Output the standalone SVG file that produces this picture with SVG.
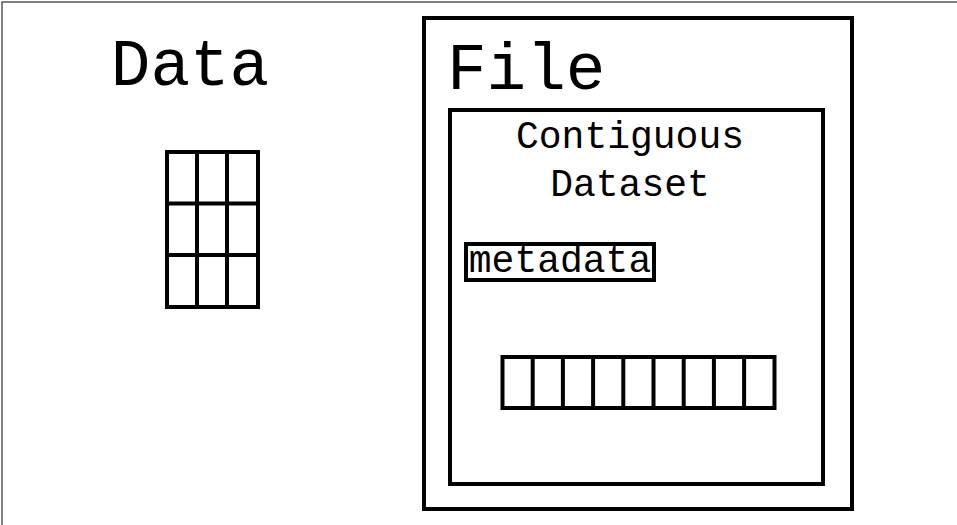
<svg xmlns="http://www.w3.org/2000/svg" width="957" height="525" viewBox="0 0 957 525">
<style>
.box{fill:#fff;stroke:#000;stroke-width:4}
.cell{fill:none;stroke:#000;stroke-width:4}
.big{font-family:"Liberation Mono","Courier New",monospace;font-size:66px;fill:#000}
.mid{font-family:"Liberation Mono","Courier New",monospace;font-size:38px;fill:#000}
</style>
<rect x="0" y="0" width="957" height="525" fill="#fff"/>
<rect x="2" y="2" width="1000" height="600" fill="none" stroke="#555" stroke-width="1.5"/>
<g id="data">
<text class="big" x="190" y="85" text-anchor="middle">Data</text>
<rect class="box" x="167" y="152" width="91" height="155"/>
<path class="cell" d="M197 152V307M227 152V307M167 203.5H258M167 255H258"/>
</g>
<g id="file">
<rect class="box" x="424" y="18" width="428" height="491"/>
<text class="big" x="447" y="89">File</text>
<g id="dataset">
<rect class="box" x="450" y="110" width="373" height="374"/>
<text class="mid" x="630" y="148" text-anchor="middle">Contiguous</text>
<text class="mid" x="630" y="196" text-anchor="middle">Dataset</text>
<g id="metadata">
<rect class="box" x="466" y="244" width="188" height="36"/>
<text class="mid" x="560" y="272" text-anchor="middle">metadata</text>
</g>
<g id="array">
<rect class="box" x="502.5" y="357" width="272" height="51"/>
<path class="cell" d="M532.7 357V408M562.9 357V408M593.1 357V408M623.3 357V408M653.5 357V408M683.7 357V408M713.9 357V408M744.1 357V408"/>
</g>
</g>
</g>
<g id="connectors"></g>
</svg>
